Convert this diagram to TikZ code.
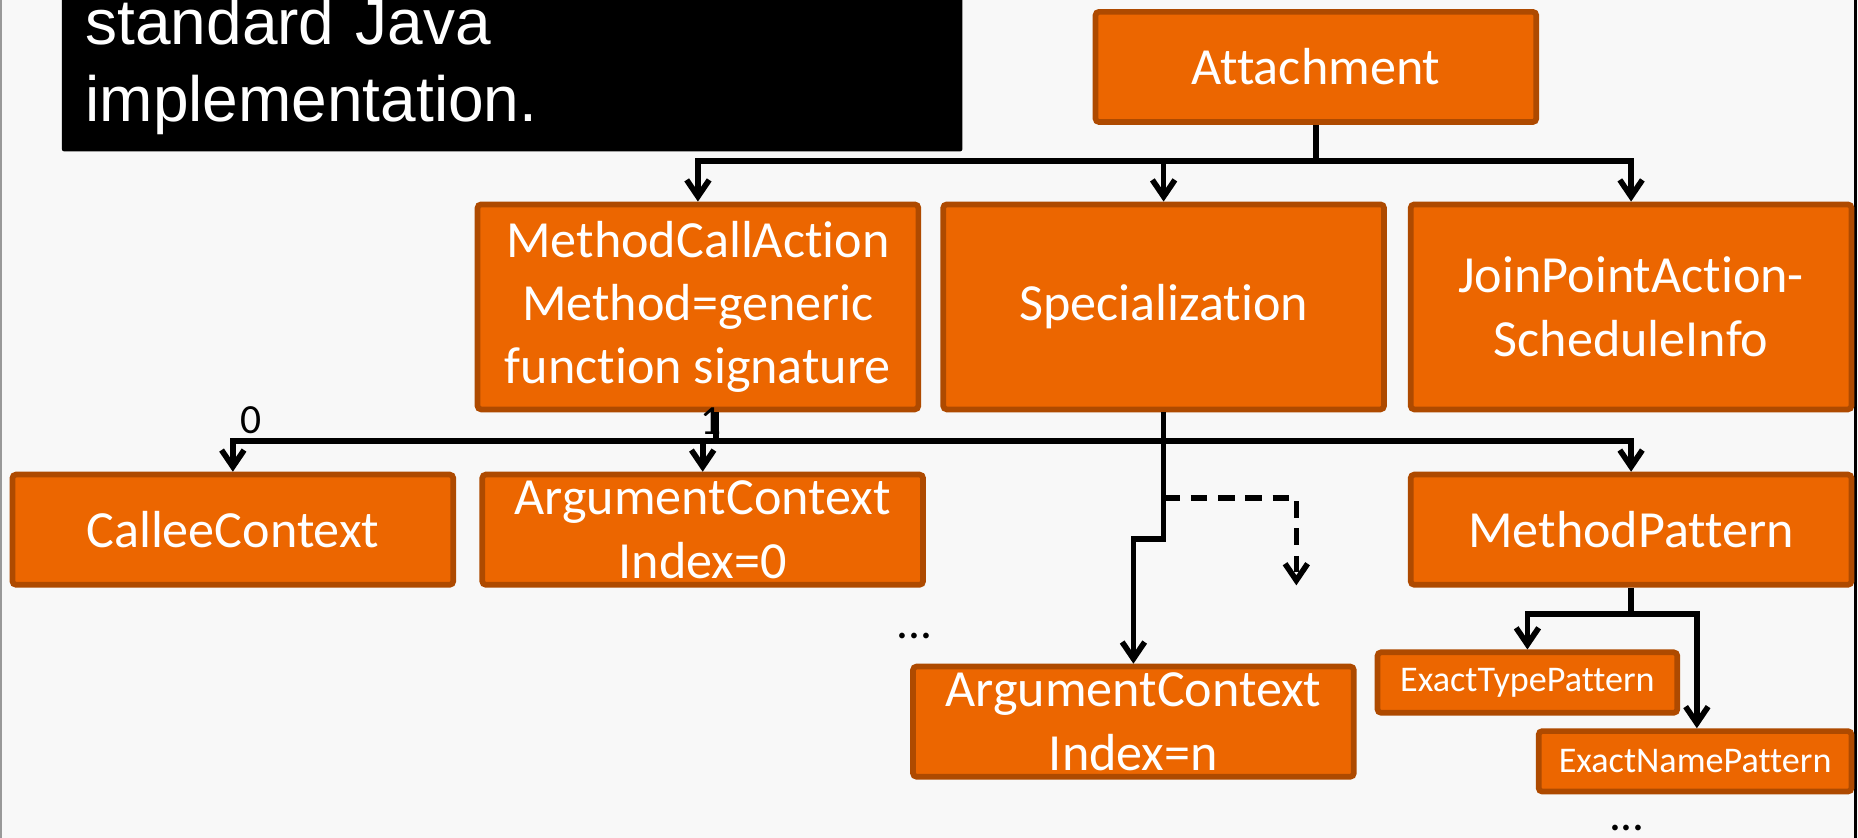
\documentclass[tikz,border=0pt]{standalone}
\usepackage{fontspec}
\setmainfont{Carlito}[Ligatures=NoCommon]
\newfontfamily\notefont{Liberation Sans}
\usetikzlibrary{arrows.meta}
\definecolor{boxfill}{HTML}{EC6600}
\definecolor{boxline}{HTML}{AE4A00}
\definecolor{slide}{HTML}{F8F8F8}
\tikzset{
  box/.style={
    draw=boxline, fill=boxfill, line width=4.8pt, rounded corners=3pt,
    inner sep=0pt, minimum width=372pt, minimum height=93pt,
    align=center, text=white, font=\fontsize{44}{53.5}\selectfont
  },
  smallbox/.style={
    box, minimum width=253pt, minimum height=51pt,
    font=\fontsize{30.5}{37}\selectfont
  },
  notebox/.style={
    fill=black, rounded corners=2pt, text=white, align=left,
    inner xsep=20pt, inner ysep=14pt,
    font=\notefont\fontsize{54}{65}\selectfont
  },
  arrow/.style={-{Straight Barb[length=14pt,width=19pt]}, line width=4.8pt, draw=black},
  conn/.style={line width=4.8pt, draw=black},
  lbl/.style={inner sep=0pt, font=\fontsize{35}{42}\selectfont},
  dots/.style={inner sep=0pt, font=\fontsize{40}{48}\selectfont}
}

\begin{document}
\begin{tikzpicture}[x=1pt,y=-1pt]
    \useasboundingbox (0,0) rectangle (1568,707);
    \fill[slide] (0,0) rectangle (1568,707);
    \clip (0,0) rectangle (1568,707);
    \draw[black!40, line width=1.5pt] (0.75,0) -- (0.75,707);
    \draw[black, line width=2.5pt] (1565.5,0) -- (1565.5,707);

    \node[notebox, anchor=south west, text width=720pt] (note) at (52,128)
      {standard Java\\implementation.};

    \node[box] (attach) at (1110.5,56.5) {Attachment};
    \node[box, minimum height=173pt] (mca) at (589,259)
      {MethodCallAction\\Method=generic\\function signature};
    \node[box, minimum height=173pt] (spec) at (982,259) {Specialization};
    \node[box, minimum height=173pt] (jpa) at (1376.5,259)
      {JoinPointAction-\\ScheduleInfo};
    \node[box] (callee) at (196.5,447) {CalleeContext};
    \node[box] (argzero) at (593,447) {ArgumentContext\\Index=0};
    \node[box] (mpat) at (1376.5,447) {MethodPattern};
    \node[box] (argn) at (956.5,609) {ArgumentContext\\Index=n};
    \node[smallbox] (etype) at (1289,576) {ExactTypePattern};
    \node[smallbox, minimum width=264pt] (ename) at (1430.5,642.5) {ExactNamePattern};

    \coordinate (topbus) at (1110.5,136);
    \coordinate (midbus) at (604,372);
    \coordinate (jog) at (982,455);
    \coordinate (dashstart) at (982,420);
    \coordinate (dashend) at (1094,494);
    \coordinate (patbus) at (1376.5,518);

    \draw[conn] (attach.south) -- (topbus);
    \draw[arrow] (topbus) -| (mca.north);
    \draw[arrow] (topbus) -| (spec.north);
    \draw[arrow] (topbus) -| (jpa.north);

    \draw[conn] (mca.south -| midbus) -- (midbus);
    \draw[arrow] (midbus) -| (callee.north);
    \draw[arrow] (midbus) -| (argzero.north);
    \draw[arrow] (midbus) -| (mpat.north);
    \node[lbl, anchor=base west] (zero) at (203,366) {0};
    \node[lbl, anchor=base] (one) at (600,367) {1};

    \draw[arrow] (spec.south) -- (jog) -| (argn.north);
    \draw[arrow, dash pattern=on 14pt off 9pt] (dashstart) -| (dashend);

    \draw[conn] (mpat.south) -- (patbus);
    \draw[arrow] (patbus) -| (etype.north);
    \draw[arrow] (patbus) -| ([xshift=1.5pt]ename.north);

    \node[dots] (moreargs) at (772,537) {...};
    \node[dots] (morepats) at (1373,699) {...};
  \end{tikzpicture}
\end{document}
